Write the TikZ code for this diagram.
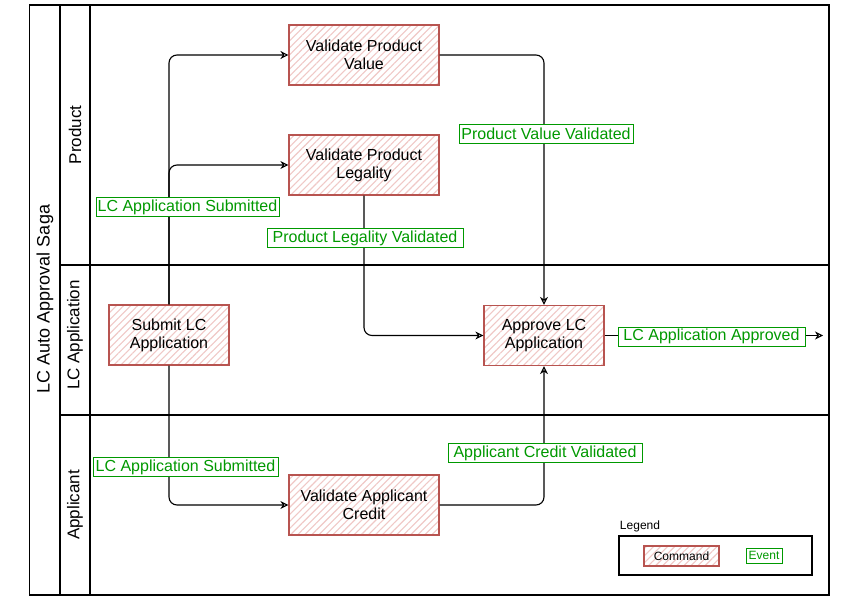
\documentclass[tikz,border=0pt]{standalone}
\usepackage{fontspec}
\setmainfont{Liberation Sans}
\usetikzlibrary{arrows.meta,patterns.meta}

\definecolor{cmdline}{HTML}{B85450}
\definecolor{cmdhatch}{HTML}{F0C8C6}
\definecolor{evtgreen}{HTML}{009900}

\tikzset{
  lane/.style={line width=1.2pt, draw=black},
  lanelabel/.style={rotate=90, font=\fontsize{17}{20}\selectfont},
  cmd/.style={draw=cmdline, line width=1.2pt,
    pattern={Lines[angle=45,distance=5pt,line width=1.1pt]}, pattern color=cmdhatch,
    minimum width=150pt, minimum height=60pt, inner sep=0pt, align=center,
    font=\fontsize{16}{18}\selectfont},
  evt/.style={draw=evtgreen, text=evtgreen, fill=white, line width=1pt,
    minimum height=19pt, inner xsep=1pt, inner ysep=0.5pt,
    font=\fontsize{16}{17}\selectfont},
  flow/.style={line width=1.1pt, draw=black, rounded corners=8pt,
    -{Stealth[open,length=8pt,width=8pt,inset=2.5pt]}},
}

\begin{document}
\begin{tikzpicture}[x=1pt,y=-1pt]
  \fill[white] (0,0) rectangle (857,599);
  \useasboundingbox (0,0) rectangle (857,599);

  % pool and lanes
  \draw[lane] (29.5,5) rectangle (829,595);
  \draw[lane] (60,5) -- (60,595);
  \draw[lane] (90,5) -- (90,595);
  \draw[lane] (60,265) -- (829,265);
  \draw[lane] (60,415) -- (829,415);

  \node[lanelabel, font=\fontsize{18}{20}\selectfont] (saga) at (45,299) {LC Auto Approval Saga};
  \node[lanelabel] (lnprod) at (75,135) {Product};
  \node[lanelabel] (lnlc) at (75,335) {LC Application};
  \node[lanelabel] (lnapp) at (75,505) {Applicant};

  % commands
  \node[cmd] (vpv) at (364,55) {Validate Product\\Value};
  \node[cmd] (vpl) at (364,165) {Validate Product\\Legality};
  \node[cmd, minimum width=120pt] (sub) at (169,335) {Submit LC\\Application};
  \node[cmd, minimum width=120pt] (app) at (544,335.5) {Approve LC\\Application};
  \node[cmd] (vac) at (364,505) {Validate Applicant\\Credit};

  % flows
  \coordinate (out) at (823,335.5);
  \draw[flow] (sub.north) |- (vpv.west);
  \draw[flow] (sub.north) |- (vpl.west);
  \draw[flow] (sub.south) |- (vac.west);
  \draw[flow] (vpv.east) -| (app.north);
  \draw[flow] (vpl.south) |- (app.west);
  \draw[flow] (vac.east) -| (app.south);
  \draw[flow] (app.east) -- (out);

  % events
  \node[evt, minimum width=183pt] (e1) at (187.5,207) {LC Application Submitted};
  \node[evt, minimum width=185pt] (e2) at (185.5,467) {LC Application Submitted};
  \node[evt, minimum width=174pt] (e3) at (546,134) {Product Value Validated};
  \node[evt, minimum width=196pt] (e4) at (365,238) {Product Legality Validated};
  \node[evt, minimum width=194pt] (e5) at (545,453) {Applicant Credit Validated};
  \node[evt, minimum width=187pt] (e6) at (711.5,336.5) {LC Application Approved};

  % legend
  \node[font=\fontsize{12}{14}\selectfont] (legtitle) at (640,526) {Legend};
  \draw[line width=1.1pt] (619,536) rectangle (812,575);
  \node[cmd, minimum width=75pt, minimum height=20pt, font=\fontsize{12}{14}\selectfont] (legcmd) at (681.5,556) {Command};
  \node[evt, minimum width=36pt, minimum height=15pt, font=\fontsize{12}{14}\selectfont] (legevt) at (764,555.5) {Event};
\end{tikzpicture}
\end{document}
